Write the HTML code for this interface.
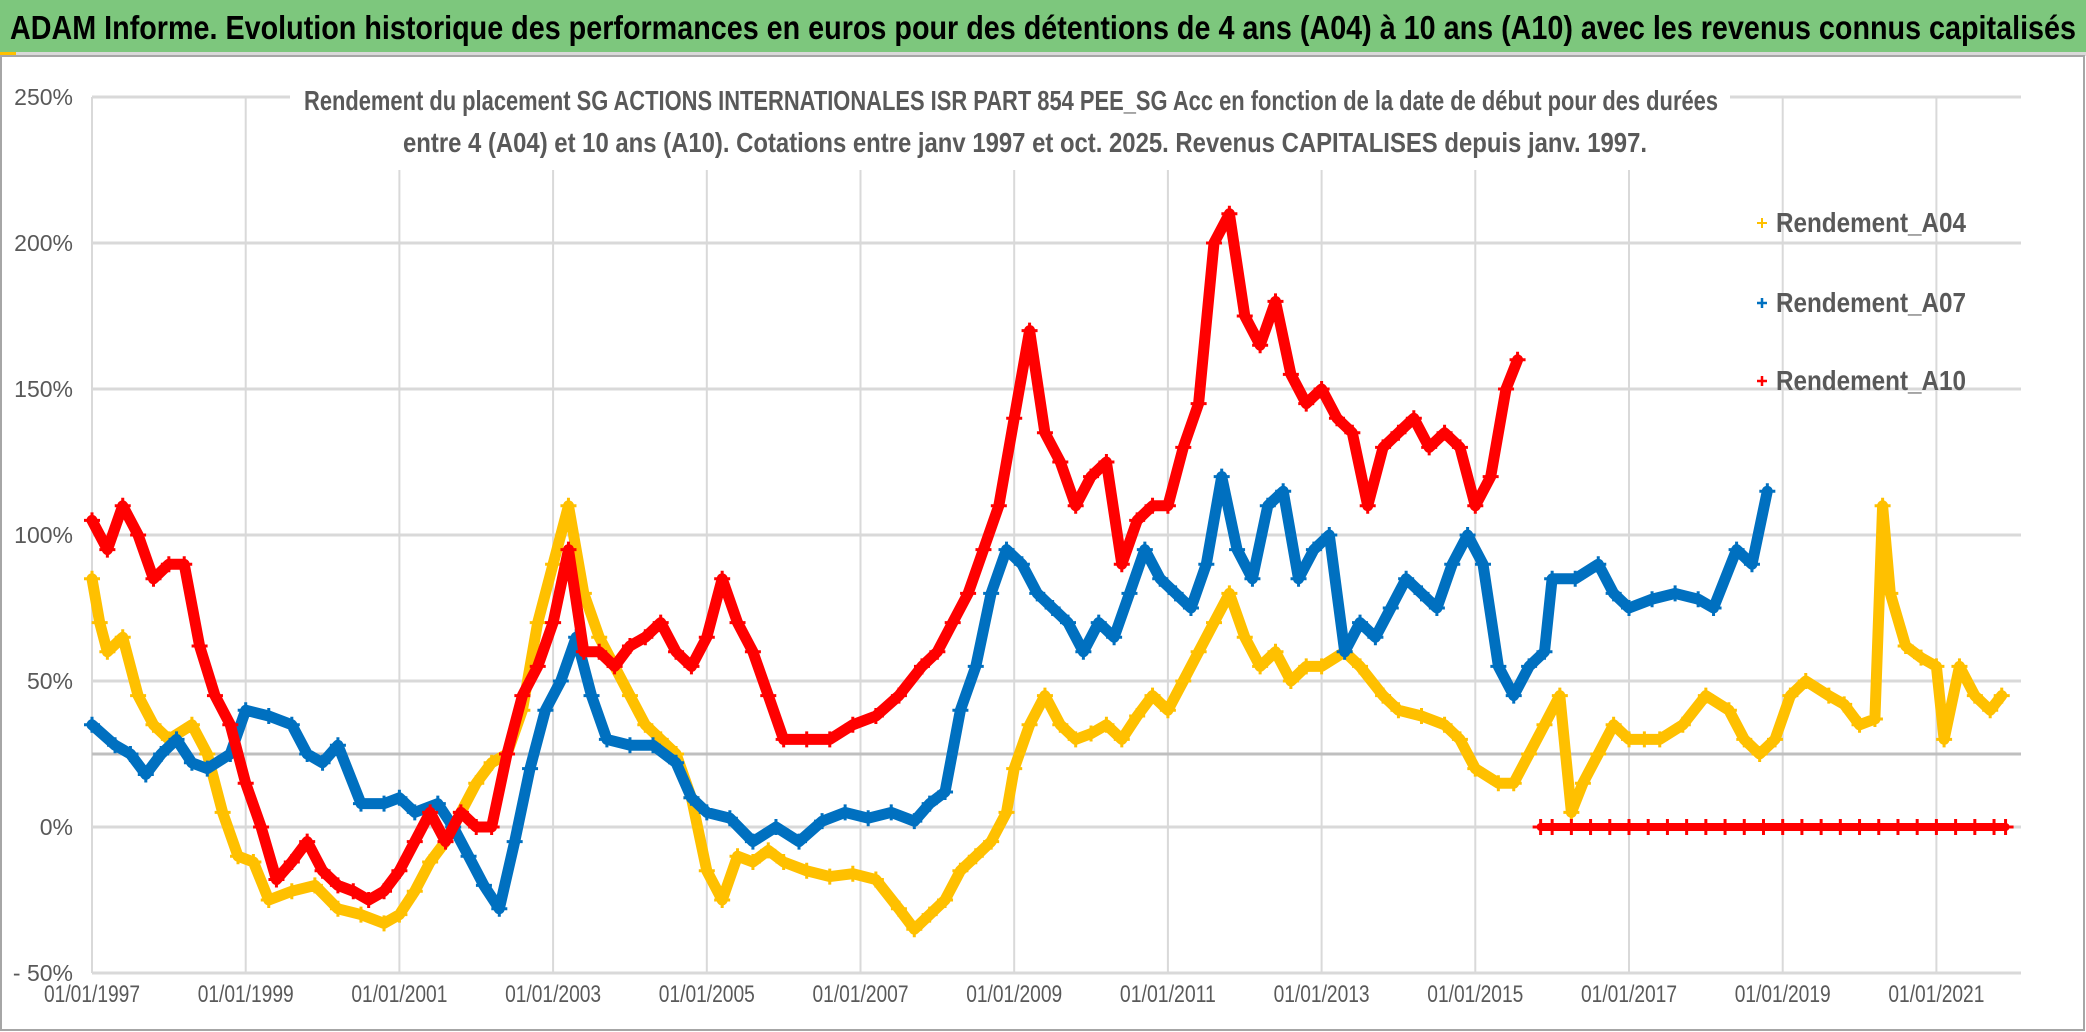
<!DOCTYPE html>
<html><head><meta charset="utf-8"><style>
html,body{margin:0;padding:0;background:#fff;}
svg{display:block;font-family:"Liberation Sans",sans-serif;}
</style></head><body>
<svg id="chart" width="2086" height="1032" viewBox="0 0 2086 1032">
<rect x="0" y="0" width="2086" height="1032" fill="#fff"/>
<rect x="0" y="0" width="2086" height="52" fill="#7dc77d"/>
<rect x="0" y="52" width="2086" height="4" fill="#d9d9d9"/>
<rect x="0" y="52" width="16" height="3" fill="#ffc000"/>
<rect x="1" y="56" width="2083" height="974" fill="none" stroke="#a6a6a6" stroke-width="2"/>
<text x="1043" y="39" text-anchor="middle" font-size="33" font-weight="bold" fill="#000" textLength="2066" lengthAdjust="spacingAndGlyphs">ADAM Informe. Evolution historique des performances en euros pour des détentions de 4 ans (A04) à 10 ans (A10) avec les revenus connus capitalisés</text>
<g id="grid"></g>
<g id="series"></g>
<rect x="290" y="82" width="1440" height="88" fill="#fff"/>
<text x="1011" y="110" text-anchor="middle" font-size="28" font-weight="bold" fill="#595959" textLength="1414" lengthAdjust="spacingAndGlyphs">Rendement du placement SG ACTIONS INTERNATIONALES ISR PART 854 PEE_SG Acc en fonction de la date de début pour des durées</text>
<text x="1025" y="152" text-anchor="middle" font-size="28" font-weight="bold" fill="#595959" textLength="1244" lengthAdjust="spacingAndGlyphs">entre 4 (A04) et 10 ans (A10). Cotations entre janv 1997 et oct. 2025. Revenus CAPITALISES depuis janv. 1997.</text>
<g>
<g><path d="M1757 223h10M1762 218v10" stroke="#ffc000" stroke-width="2"/><text x="1776" y="232" font-size="28" fill="#595959" font-weight="bold" textLength="190" lengthAdjust="spacingAndGlyphs">Rendement_A04</text></g>
<g><path d="M1757 303h10M1762 298v10" stroke="#0070c0" stroke-width="2.5"/><text x="1776" y="312" font-size="28" fill="#595959" font-weight="bold" textLength="190" lengthAdjust="spacingAndGlyphs">Rendement_A07</text></g>
<g><path d="M1757 381h10M1762 376v10" stroke="#ff0000" stroke-width="2.5"/><text x="1776" y="390" font-size="28" fill="#595959" font-weight="bold" textLength="190" lengthAdjust="spacingAndGlyphs">Rendement_A10</text></g>
</g>
</svg>
<script>
const yTicks=[250,200,150,100,50,0,-50];
const yTickLabels=["250%","200%","150%","100%","50%","0%","- 50%"];
const xTicks=[1997,1999,2001,2003,2005,2007,2009,2011,2013,2015,2017,2019,2021];
const xTickLabels=["01/01/1997","01/01/1999","01/01/2001","01/01/2003","01/01/2005","01/01/2007","01/01/2009","01/01/2011","01/01/2013","01/01/2015","01/01/2017","01/01/2019","01/01/2021"];
const refLevel=25;
const a04T=[1997.0,1997.1,1997.2,1997.4,1997.6,1997.8,1998.0,1998.3,1998.5,1998.7,1998.9,1999.1,1999.3,1999.6,1999.9,2000.2,2000.5,2000.8,2001.0,2001.2,2001.4,2001.6,2001.8,2002.0,2002.2,2002.4,2002.6,2002.8,2003.0,2003.2,2003.4,2003.6,2003.8,2004.0,2004.2,2004.4,2004.6,2004.8,2005.0,2005.2,2005.4,2005.6,2005.8,2006.0,2006.3,2006.6,2006.9,2007.2,2007.5,2007.7,2007.9,2008.1,2008.3,2008.5,2008.7,2008.9,2009.0,2009.2,2009.4,2009.6,2009.8,2010.0,2010.2,2010.4,2010.6,2010.8,2011.0,2011.2,2011.4,2011.6,2011.8,2012.0,2012.2,2012.4,2012.6,2012.8,2013.0,2013.3,2013.5,2013.8,2014.0,2014.3,2014.6,2014.8,2015.0,2015.3,2015.5,2015.7,2015.9,2016.1,2016.25,2016.4,2016.6,2016.8,2017.0,2017.2,2017.4,2017.7,2018.0,2018.3,2018.5,2018.7,2018.9,2019.1,2019.3,2019.6,2019.8,2020.0,2020.2,2020.3,2020.4,2020.6,2020.8,2021.0,2021.1,2021.3,2021.5,2021.7,2021.85];
const a04V=[85,70,60,65,45,35,30,35,25,5,-10,-12,-25,-22,-20,-28,-30,-33,-30,-22,-12,-5,5,15,22,25,40,70,90,110,80,65,55,45,35,30,25,10,-15,-25,-10,-12,-8,-12,-15,-17,-16,-18,-28,-35,-30,-25,-15,-10,-5,5,20,35,45,35,30,32,35,30,38,45,40,50,60,70,80,65,55,60,50,55,55,60,55,45,40,38,35,30,20,15,15,25,35,45,5,15,25,35,30,30,30,35,45,40,30,25,30,45,50,45,42,35,37,110,80,62,58,55,30,55,45,40,45];
const a07T=[1997.0,1997.3,1997.5,1997.7,1997.9,1998.1,1998.3,1998.5,1998.8,1999.0,1999.3,1999.6,1999.8,2000.0,2000.2,2000.5,2000.8,2001.0,2001.2,2001.5,2001.7,2001.9,2002.1,2002.3,2002.5,2002.7,2002.9,2003.1,2003.3,2003.5,2003.7,2004.0,2004.3,2004.6,2004.8,2005.0,2005.3,2005.6,2005.9,2006.2,2006.5,2006.8,2007.1,2007.4,2007.7,2007.9,2008.1,2008.3,2008.5,2008.7,2008.9,2009.1,2009.3,2009.5,2009.7,2009.9,2010.1,2010.3,2010.5,2010.7,2010.9,2011.1,2011.3,2011.5,2011.7,2011.9,2012.1,2012.3,2012.5,2012.7,2012.9,2013.1,2013.3,2013.5,2013.7,2013.9,2014.1,2014.3,2014.5,2014.7,2014.9,2015.1,2015.3,2015.5,2015.7,2015.9,2016.0,2016.3,2016.6,2016.8,2017.0,2017.3,2017.6,2017.9,2018.1,2018.4,2018.6,2018.8];
const a07V=[35,28,25,18,25,30,22,20,25,40,38,35,25,22,28,8,8,10,5,8,0,-10,-20,-28,-5,20,40,50,65,45,30,28,28,22,10,5,3,-5,0,-5,2,5,3,5,2,8,12,40,55,80,95,90,80,75,70,60,70,65,80,95,85,80,75,90,120,95,85,110,115,85,95,100,60,70,65,75,85,80,75,90,100,90,55,45,55,60,85,85,90,80,75,78,80,78,75,95,90,115];
const a10T=[1997.0,1997.2,1997.4,1997.6,1997.8,1998.0,1998.2,1998.4,1998.6,1998.8,1999.0,1999.2,1999.4,1999.6,1999.8,2000.0,2000.2,2000.4,2000.6,2000.8,2001.0,2001.2,2001.4,2001.6,2001.8,2002.0,2002.2,2002.4,2002.6,2002.8,2003.0,2003.2,2003.4,2003.6,2003.8,2004.0,2004.2,2004.4,2004.6,2004.8,2005.0,2005.2,2005.4,2005.6,2005.8,2006.0,2006.3,2006.6,2006.9,2007.2,2007.5,2007.8,2008.0,2008.2,2008.4,2008.6,2008.8,2009.0,2009.2,2009.4,2009.6,2009.8,2010.0,2010.2,2010.4,2010.6,2010.8,2011.0,2011.2,2011.4,2011.6,2011.8,2012.0,2012.2,2012.4,2012.6,2012.8,2013.0,2013.2,2013.4,2013.6,2013.8,2014.0,2014.2,2014.4,2014.6,2014.8,2015.0,2015.2,2015.4,2015.55];
const a10V=[105,95,110,100,85,90,90,62,45,35,15,0,-18,-12,-5,-15,-20,-22,-25,-22,-15,-5,5,-5,5,0,0,25,45,55,70,95,60,60,55,62,65,70,60,55,65,85,70,60,45,30,30,30,35,38,45,55,60,70,80,95,110,140,170,135,125,110,120,125,90,105,110,110,130,145,200,210,175,165,180,155,145,150,140,135,110,130,135,140,130,135,130,110,120,150,160];
const a10ZeroT=[2015.85,2016.0,2016.25,2016.5,2016.75,2017.0,2017.25,2017.5,2017.75,2018.0,2018.25,2018.5,2018.75,2019.0,2019.25,2019.5,2019.75,2020.0,2020.25,2020.5,2020.75,2021.0,2021.25,2021.5,2021.75,2021.9];
const a10ZeroV=[0,0,0,0,0,0,0,0,0,0,0,0,0,0,0,0,0,0,0,0,0,0,0,0,0,0];

const NS="http://www.w3.org/2000/svg";
const X0=92,PX_YEAR=76.85,Y0=827,PX_PCT=2.92,XMAX=2021;
function xs(t){return X0+(t-1997)*PX_YEAR;}
function ys(v){return Y0-v*PX_PCT;}
function mk(tag,attrs,parent){const e=document.createElementNS(NS,tag);for(const k in attrs)e.setAttribute(k,attrs[k]);parent.appendChild(e);return e;}
const grid=document.getElementById('grid');
yTicks.forEach((v,i)=>{
  const l=mk('line',{x1:X0,x2:XMAX,y1:ys(v),y2:ys(v),stroke:'#d9d9d9','stroke-width':3},grid);
  
  
  const t=mk('text',{x:73,y:ys(v)+8,'text-anchor':'end','font-size':23,fill:'#595959'},grid);
  
  
  t.textContent=yTickLabels[i];
});
xTicks.forEach((yr,i)=>{
  const l=mk('line',{x1:xs(yr),x2:xs(yr),y1:ys(250),y2:ys(-50),stroke:'#d9d9d9','stroke-width':2},grid);
  
  
  const t=mk('text',{x:xs(yr),y:1002,'text-anchor':'middle','font-size':24,fill:'#595959',textLength:96,lengthAdjust:'spacingAndGlyphs'},grid);
  
  
  t.textContent=xTickLabels[i];
});
const ref=mk('line',{x1:X0,x2:XMAX,y1:ys(refLevel),y2:ys(refLevel),stroke:'#bfbfbf','stroke-width':3},grid);


const ser=document.getElementById('series');
function drawSeries(T,V,color,name,bandW){
  const g=mk('g',{},ser);
  
  
  const pts=T.map((t,i)=>xs(t).toFixed(1)+','+ys(V[i]).toFixed(1)).join(' ');
  const p=mk('polyline',{points:pts,fill:'none',stroke:color,'stroke-width':bandW,'stroke-linejoin':'round','stroke-linecap':'round'},g);
  
  
  T.forEach((t,i)=>{
    const x=xs(t),y=ys(V[i]);
    const m=mk('path',{d:`M${x-8} ${y}h16M${x} ${y-8}v16`,stroke:color,'stroke-width':3},g);
    
    
  });
}
drawSeries(a04T,a04V,'#ffc000','series-a04',11);
drawSeries(a07T,a07V,'#0070c0','series-a07',11);
drawSeries(a10T,a10V,'#ff0000','series-a10',11);
drawSeries(a10ZeroT,a10ZeroV,'#ff0000','series-a10-zero',8);
</script>
</body></html>
